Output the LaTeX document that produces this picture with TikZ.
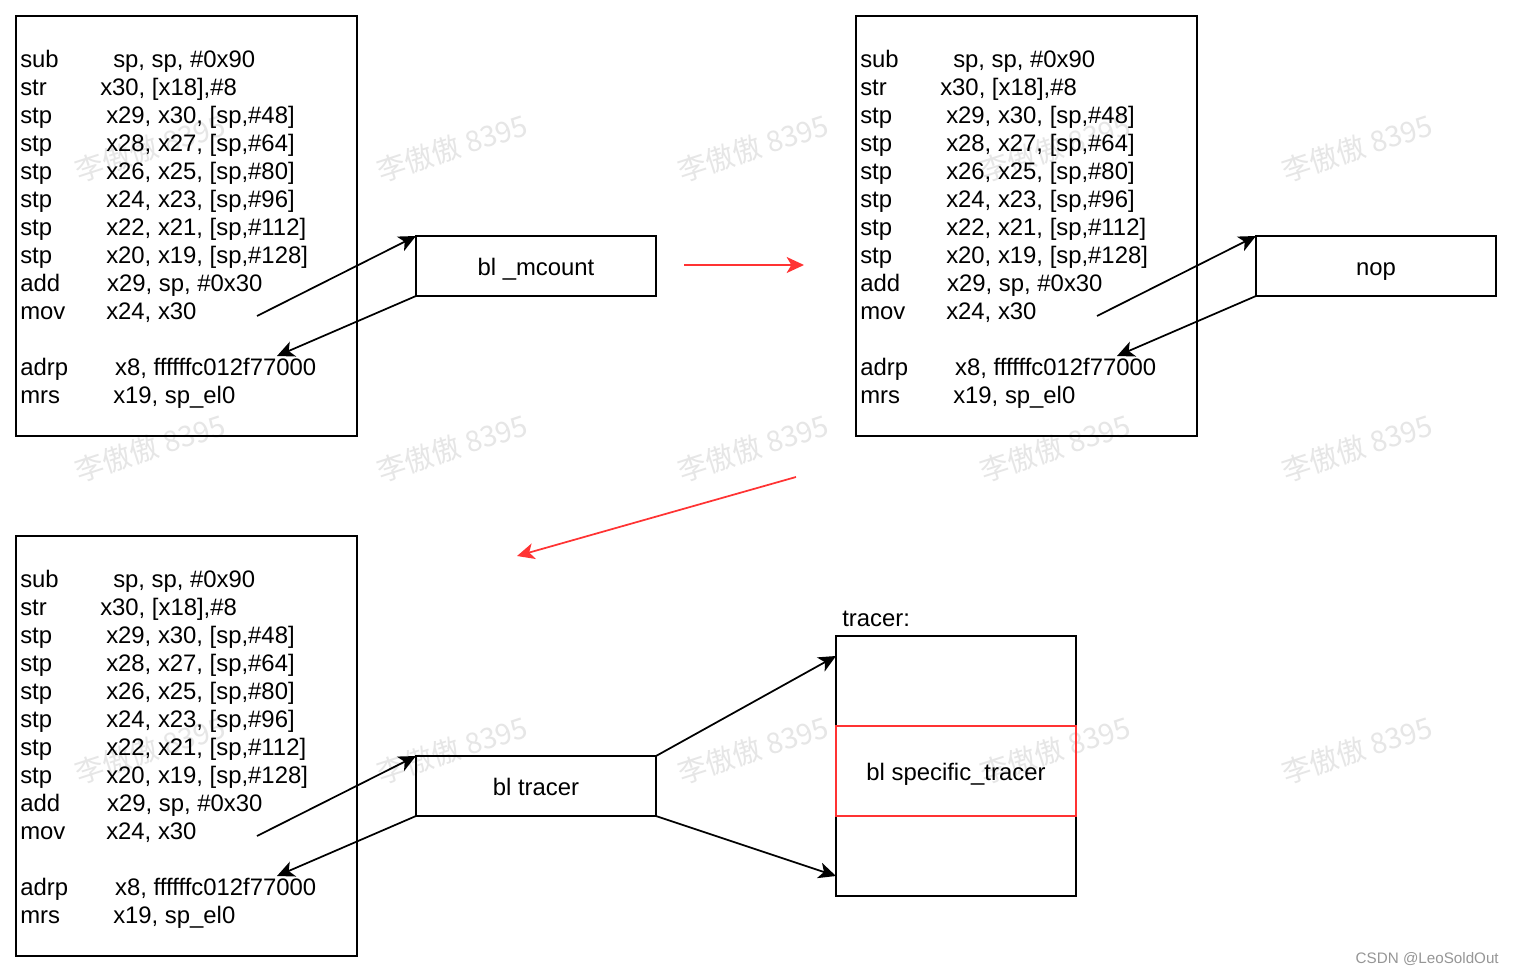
\documentclass[tikz,border=0pt]{standalone}
\usepackage{fontspec}
\setmainfont{Liberation Sans}
\newfontfamily\cjk{Noto Sans CJK SC}
\usetikzlibrary{arrows.meta}
\definecolor{myred}{RGB}{255,51,51}
\definecolor{wmgray}{RGB}{230,230,230}
\definecolor{sigray}{RGB}{150,150,150}

\newcommand{\cl}[3]{\strut\makebox[#1][l]{#2}#3}
\newcommand{\codeblock}{%
\cl{69.75pt}{sub}{sp, sp, \#0x90}\\
\cl{60pt}{str}{x30, [x18],\#8}\\
\cl{64.5pt}{stp}{x29, x30, [sp,\#48]}\\
\cl{64.5pt}{stp}{x28, x27, [sp,\#64]}\\
\cl{64.5pt}{stp}{x26, x25, [sp,\#80]}\\
\cl{64.5pt}{stp}{x24, x23, [sp,\#96]}\\
\cl{64.5pt}{stp}{x22, x21, [sp,\#112]}\\
\cl{64.5pt}{stp}{x20, x19, [sp,\#128]}\\
\cl{65.25pt}{add}{x29, sp, \#0x30}\\
\cl{64.5pt}{mov}{x24, x30}\\
\strut\\
\cl{71.25pt}{adrp}{x8, ffffffc012f77000}\\
\cl{69.75pt}{mrs}{x19, sp\_el0}}

\tikzset{
  txt/.style={font=\fontsize{17.9pt}{21pt}\selectfont},
  codetext/.style={txt, align=left, inner sep=0pt, anchor=north west},
  codebox/.style={draw=black, line width=1.4pt, minimum width=255.75pt, minimum height=315pt, inner sep=0pt, outer sep=0pt},
  callbox/.style={draw=black, line width=1.4pt, minimum width=180pt, minimum height=45pt, inner sep=0pt, outer sep=0pt, txt, text height=14.5pt, text depth=0pt},
  arr/.style={draw=black, line width=1.3pt, -{Stealth[length=13pt,width=12pt,inset=3.5pt]}},
  redarr/.style={draw=myred, line width=1.3pt, -{Stealth[length=13pt,width=12pt,inset=3.5pt]}},
  wm/.style={text=wmgray, font=\cjk\fontsize{21.5pt}{24pt}\selectfont, rotate=18, inner sep=0pt},
}

\begin{document}
\begin{tikzpicture}[x=0.75pt,y=-0.75pt]
\useasboundingbox (0,0) rectangle (1514,974);
\fill[white] (0,0) rectangle (1514,974);

% watermarks
\foreach \i/\wx in {1/150,2/452,3/753,4/1055,5/1357}{
  \foreach \j/\wy in {1/148,2/448,3/750}{
    \node[wm] (wm-\i-\j) at (\wx,\wy) {李傲傲 8395};
  }
}

% top-left code box
\node[codebox] (cb1) at (186.5,226) {};
\node[codetext] (ct1) at (20,47.4) {\codeblock};
\node[callbox] (mc) at (536,266) {bl \_mcount};
\coordinate (s1) at (257,316);
\coordinate (e1) at (277,356);
\draw[arr] (s1) -- (mc.north west);
\draw[arr] (mc.south west) -- (e1);

% red arrow right
\coordinate (ra1) at (684,265);
\coordinate (ra2) at (804,265);
\draw[redarr] (ra1) -- (ra2);

% top-right code box
\node[codebox] (cb2) at (1026.5,226) {};
\node[codetext] (ct2) at (860,47.4) {\codeblock};
\node[callbox] (np) at (1376,266) {nop};
\coordinate (s2) at (1097,316);
\coordinate (e2) at (1117,356);
\draw[arr] (s2) -- (np.north west);
\draw[arr] (np.south west) -- (e2);

% red diagonal arrow
\coordinate (rb1) at (796,477);
\coordinate (rb2) at (517,556);
\draw[redarr] (rb1) -- (rb2);

% bottom-left code box
\node[codebox] (cb3) at (186.5,746) {};
\node[codetext] (ct3) at (20,567.4) {\codeblock};
\node[callbox] (bt) at (536,786) {bl tracer};
\coordinate (s3) at (257,836);
\coordinate (e3) at (277,876);
\draw[arr] (s3) -- (bt.north west);
\draw[arr] (bt.south west) -- (e3);

% tracer box
\node[draw=black, line width=1.4pt, minimum width=180pt, minimum height=195pt, inner sep=0pt, outer sep=0pt] (tr) at (956,766) {};
\node[draw=myred, line width=1.4pt, minimum width=180pt, minimum height=67.5pt, inner sep=0pt, outer sep=0pt, txt, text height=13.5pt, text depth=0pt] (st) at (956,771) {bl specific\_tracer};
\node[txt, anchor=base west, inner sep=0pt] (tl) at (842,626) {tracer:};
\coordinate (t1) at (836,656);
\coordinate (t2) at (836,876);
\draw[arr] (bt.north east) -- (t1);
\draw[arr] (bt.south east) -- (t2);

% signature
\node[anchor=base east, inner sep=0pt, text=sigray, font=\fontsize{11.4pt}{13pt}\selectfont] (sig) at (1499,963) {CSDN @LeoSoldOut};
\end{tikzpicture}
\end{document}
